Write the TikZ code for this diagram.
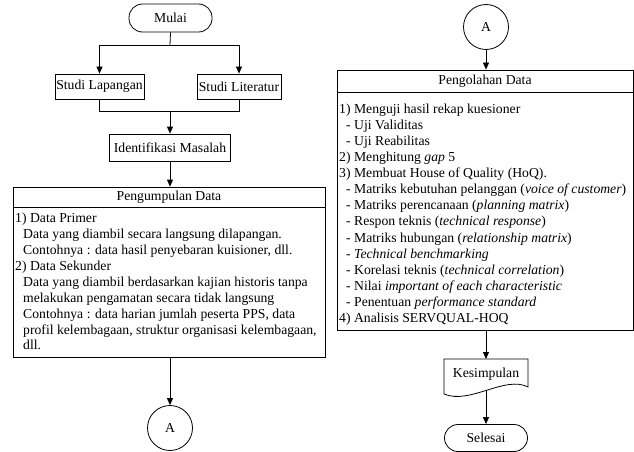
\documentclass[tikz,border=0pt]{standalone}
\usepackage{fontspec}
\setmainfont{Liberation Serif}
\usetikzlibrary{arrows.meta,calc}
\begin{document}
\begin{tikzpicture}[x=1pt,y=-1pt,
  every node/.style={font=\fontsize{13.7}{16}\selectfont, inner sep=0pt},
  box/.style={draw, line width=0.8pt, rectangle},
  term/.style={draw, line width=0.8pt, rounded corners=13.5pt},
  conn/.style={draw, line width=0.8pt, circle, minimum size=45pt},
  arr/.style={line width=0.8pt, -{Triangle[length=7pt,width=6pt]}},
  ln/.style={line width=0.8pt},
  bodyl/.style={align=left, anchor=north west, font=\fontsize{13.7}{15.9}\selectfont},
  bodyr/.style={align=left, anchor=north west, font=\fontsize{13.7}{16.1}\selectfont}
]
\useasboundingbox (0,0) rectangle (634,452);

% ---- left column ----
\node[term, minimum width=83pt, minimum height=28pt] (mulai) at (170.5,18) {Mulai};
\node[box, minimum width=89pt, minimum height=25pt] (lap) at (99.5,86.5) {Studi Lapangan};
\node[box, minimum width=84pt, minimum height=25pt] (lit) at (239,86.5) {Studi Literatur};
\node[box, minimum width=121pt, minimum height=27pt] (ident) at (170,147.5) {Identifikasi Masalah};
\node[box, minimum width=312pt, minimum height=170pt] (kumpul) at (169,272) {};
\draw[ln] ($(kumpul.north west)+(0,21)$) -- ($(kumpul.north east)+(0,21)$);
\node (kumpulh) at (169,197.5) {Pengumpulan Data};
\node[bodyl] (kumpulb) at (15,213) {1) Data Primer\\
\hspace*{8pt}Data yang diambil secara langsung dilapangan.\\
\hspace*{8pt}Contohnya : data hasil penyebaran kuisioner, dll.\\
2) Data Sekunder\\
\hspace*{8pt}Data yang diambil berdasarkan kajian historis tanpa\\
\hspace*{8pt}melakukan pengamatan secara tidak langsung\\
\hspace*{8pt}Contohnya : data harian jumlah peserta PPS, data\\
\hspace*{8pt}profil kelembagaan, struktur organisasi kelembagaan,\\
\hspace*{8pt}dll.};
\node[conn] (A1) at (170,428) {A};

\coordinate (j1) at (170,45);
\coordinate (j2) at (170,111);
\draw[ln] (mulai.south) -- (j1);
\draw[arr] (j1) -| (lap.north);
\draw[arr] (j1) -| (lit.north);
\draw[ln] (lap.south) |- (j2);
\draw[ln] (lit.south) |- (j2);
\draw[arr] (j2) -- (ident.north);
\draw[arr] (ident.south) -- (ident.south |- kumpul.north);
\draw[arr] (A1.north |- kumpul.south) -- (A1.north);

% ---- right column ----
\node[conn] (A2) at (486,27) {A};
\node[box, minimum width=296pt, minimum height=260pt] (olah) at (485,200) {};
\draw[ln] ($(olah.north west)+(0,23)$) -- ($(olah.north east)+(0,23)$);
\node (olahh) at (485,81.5) {Pengolahan Data};
\node[bodyr] (olahb) at (339,103.5) {1) Menguji hasil rekap kuesioner\\
\hspace*{7pt}- Uji Validitas\\
\hspace*{7pt}- Uji Reabilitas\\
2) Menghitung \textit{gap} 5\\
3) Membuat House of Quality (HoQ).\\
\hspace*{7pt}- Matriks kebutuhan pelanggan (\textit{voice of customer})\\
\hspace*{7pt}- Matriks perencanaan (\textit{planning matrix})\\
\hspace*{7pt}- Respon teknis (\textit{technical response})\\
\hspace*{7pt}- Matriks hubungan (\textit{relationship matrix})\\
\hspace*{7pt}- \textit{Technical benchmarking}\\
\hspace*{7pt}- Korelasi teknis (\textit{technical correlation})\\
\hspace*{7pt}- Nilai \textit{important of each characteristic}\\
\hspace*{7pt}- Penentuan \textit{performance standard}\\
4) Analisis SERVQUAL-HOQ};

\node (kes) at (486,374) {Kesimpulan};
\coordinate (kesN) at (486,359);
\coordinate (kesS) at (486,390);
\draw[ln] (444,359) -- (528,359) -- (528,387) .. controls (505,375) and (470,405) .. (444,394) -- cycle;
\node[term, minimum width=83pt, minimum height=27pt] (selesai) at (486,438) {Selesai};

\draw[arr] (A2.south) -- (A2.south |- olah.north);
\draw[arr] (kesN |- olah.south) -- (kesN);
\draw[arr] (kesS) -- (selesai.north);
\end{tikzpicture}
\end{document}
